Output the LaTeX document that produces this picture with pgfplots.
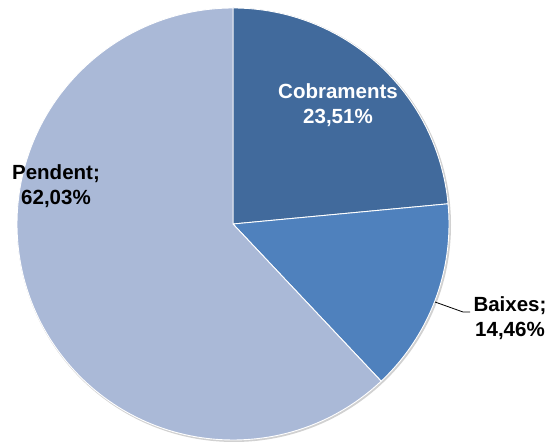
\documentclass[border=0pt]{standalone}
\usepackage{pgfplots}
\usepackage{pgfplotstable}
\pgfplotsset{compat=1.18}
\usepackage{fontspec}
\setmainfont{Liberation Sans}
\definecolor{cobr}{HTML}{416A9C}
\definecolor{baix}{HTML}{4F81BD}
\definecolor{pend}{HTML}{AAB9D7}
\pgfplotstableread{
label value
Cobraments 23.51
Baixes 14.46
Pendent 62.03
}\piedata
\pgfplotstablegetelem{0}{value}\of\piedata \let\va\pgfplotsretval
\pgfplotstablegetelem{1}{value}\of\piedata \let\vb\pgfplotsretval
\pgfplotstablegetelem{2}{value}\of\piedata \let\vc\pgfplotsretval
\pgfmathsetmacro{\aA}{90-3.6*\va}
\pgfmathsetmacro{\aB}{\aA-3.6*\vb}
\pgfmathsetmacro{\aC}{\aB-3.6*\vc}
\begin{document}
\begin{tikzpicture}
\begin{axis}[
  scale only axis, width=549pt, height=446pt,
  xmin=0, xmax=549, ymin=0, ymax=446,
  hide axis, clip=false,
]
\coordinate (ll) at (axis cs:0,0);
\coordinate (ur) at (axis cs:549,446);
\fill[black!18] (axis cs:234,221) circle[radius=217pt];
\fill[cobr, draw=white, line width=0.9pt] (axis cs:233,222) -- ++(90:216pt) arc[start angle=90, end angle=\aA, radius=216pt] -- cycle;
\fill[baix, draw=white, line width=0.9pt] (axis cs:233,222) -- ++(\aA:216pt) arc[start angle=\aA, end angle=\aB, radius=216pt] -- cycle;
\fill[pend, draw=white, line width=0.9pt] (axis cs:233,222) -- ++(\aB:216pt) arc[start angle=\aB, end angle=\aC, radius=216pt] -- cycle;
\draw[black, line width=0.8pt] (axis cs:435,144) -- (axis cs:463,134) -- (axis cs:470,134);
\begin{scope}[every node/.style={font=\fontsize{20.5}{24}\selectfont\bfseries, inner sep=0pt, anchor=base}]
\node[text=white] at (axis cs:338,347) {Cobraments};
\node[text=white] at (axis cs:338,322) {23,51\%};
\node at (axis cs:510,134) {Baixes;};
\node at (axis cs:510,109) {14,46\%};
\node at (axis cs:56,266) {Pendent;};
\node at (axis cs:56,241) {62,03\%};
\end{scope}
\end{axis}
\pgfresetboundingbox
\path (ll) rectangle (ur);
\end{tikzpicture}
\end{document}
